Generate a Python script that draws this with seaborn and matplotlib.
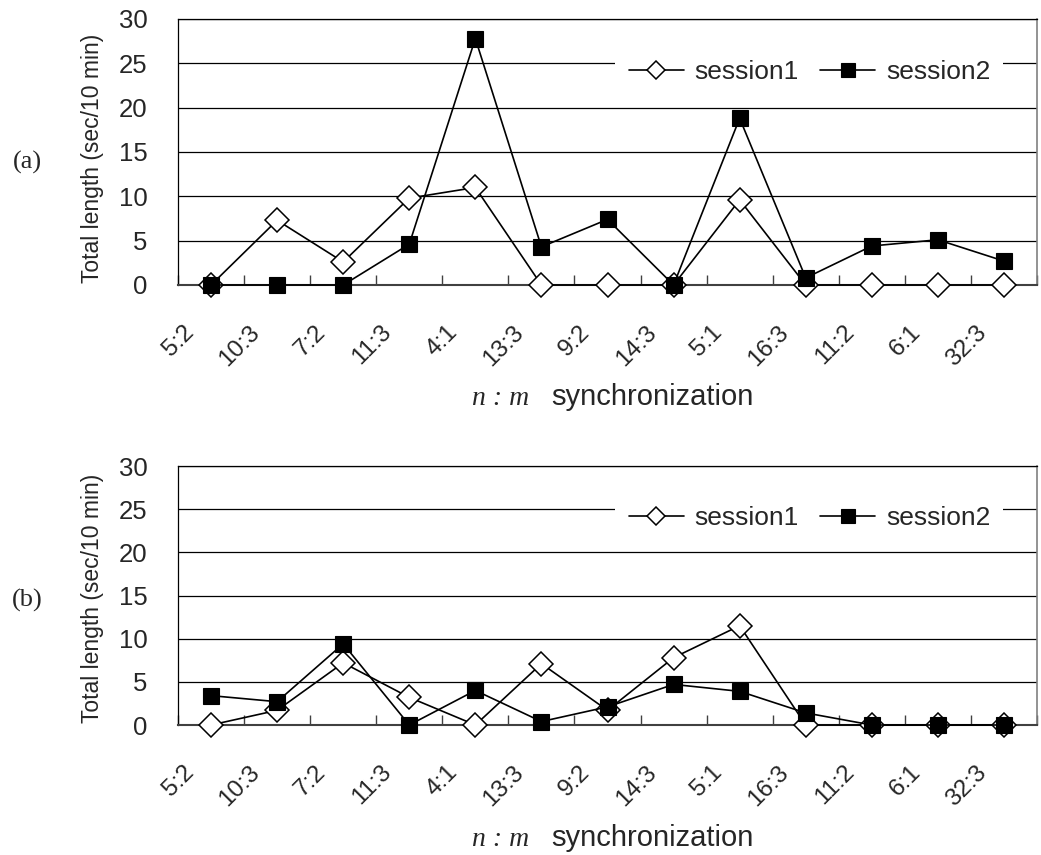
import numpy as np
import pandas as pd
import matplotlib
matplotlib.use("Agg")
import matplotlib.pyplot as plt
import seaborn as sns
from matplotlib.transforms import ScaledTranslation
from matplotlib.ticker import FixedLocator

# ---------------- data ----------------
ratios = ["5:2", "10:3", "7:2", "11:3", "4:1", "13:3", "9:2",
          "14:3", "5:1", "16:3", "11:2", "6:1", "32:3"]
a_session1 = [0, 7.3, 2.6, 9.8, 11.0, 0, 0, 0, 9.6, 0, 0, 0, 0]
a_session2 = [0, 0, 0, 4.6, 27.8, 4.3, 7.4, 0, 18.8, 0.8, 4.4, 5.1, 2.7]
b_session1 = [0, 1.7, 7.2, 3.2, 0, 7.1, 1.7, 7.8, 11.5, 0, 0, 0, 0]
b_session2 = [3.4, 2.7, 9.4, 0, 4.0, 0.4, 2.1, 4.7, 3.9, 1.4, 0, 0, 0]
y_ticks = [0, 5, 10, 15, 20, 25, 30]
series_names = ["session1", "session2"]
panel_labels = ["(a)", "(b)"]
y_title = "Total length (sec/10 min)"
x_title_italic = "n : m"
x_title = "synchronization"

sns.set_theme(style="white")
plt.rcParams["font.family"] = ["Liberation Sans", "DejaVu Sans"]

W, H = 1041, 855
fig = plt.figure(figsize=(W / 100, H / 100), dpi=100)
fig.patch.set_facecolor("white")

# axes boxes in pixels: left, right, top(y=30), bottom(y=0)
boxes = [(178, 1037, 19, 285), (178, 1037, 466, 725)]
panel_data = [(a_session1, a_session2), (b_session1, b_session2)]
label_y = [162, 600]
xlabel_base = [405, 846]
ylabel_center = [158, 598]

for i, ((l, r, t, b), (s1, s2)) in enumerate(zip(boxes, panel_data)):
    ax = fig.add_axes([l / W, 1 - b / H, (r - l) / W, (b - t) / H])
    df = pd.DataFrame({"pos": np.arange(len(ratios)),
                       series_names[0]: s1, series_names[1]: s2})
    sns.lineplot(data=df, x="pos", y=series_names[0], ax=ax, color="black",
                 linewidth=1.2, marker="D", markersize=12.5,
                 markerfacecolor="white", markeredgecolor="black",
                 markeredgewidth=1.1, label=series_names[0], clip_on=False,
                 zorder=3)
    sns.lineplot(data=df, x="pos", y=series_names[1], ax=ax, color="black",
                 linewidth=1.2, marker="s", markersize=12,
                 markerfacecolor="black", markeredgecolor="black",
                 markeredgewidth=0.8, label=series_names[1], clip_on=False,
                 zorder=4)

    ax.set_xlim(-0.5, len(ratios) - 0.5)
    ax.set_ylim(0, 30)
    ax.set_yticks(y_ticks)
    ax.set_xticks(np.arange(len(ratios)))
    ax.set_xticklabels(ratios)
    ax.xaxis.set_minor_locator(FixedLocator(np.arange(len(ratios) + 1) - 0.5))
    ax.set_xlabel("")
    ax.set_ylabel("")

    ax.yaxis.grid(True, color="black", linewidth=0.9)
    ax.xaxis.grid(False)
    ax.set_axisbelow(True)
    ax.set_facecolor("white")

    for side in ["top", "left"]:
        ax.spines[side].set_visible(True)
        ax.spines[side].set_color("black")
        ax.spines[side].set_linewidth(0.9)
    ax.spines["right"].set_color("#808080")
    ax.spines["right"].set_linewidth(1.2)
    ax.spines["bottom"].set_color("#404040")
    ax.spines["bottom"].set_linewidth(1.5)

    ax.tick_params(axis="y", length=0, pad=22, labelsize=18.5)
    ax.tick_params(axis="x", which="major", length=0, pad=26, labelsize=17.5)
    ax.tick_params(axis="x", which="minor", direction="in", length=7,
                   width=1, color="#404040", bottom=True)
    offset = ScaledTranslation(-13 / 100, 0, fig.dpi_scale_trans)
    for lab in ax.get_xticklabels():
        lab.set_rotation(45)
        lab.set_ha("right")
        lab.set_va("top")
        lab.set_transform(lab.get_transform() + offset)

    leg = ax.legend(loc="center", bbox_to_anchor=(0.735, 0.80), ncol=2,
                    frameon=True, fancybox=False, edgecolor="none",
                    facecolor="white", framealpha=1, handlelength=2.1,
                    handletextpad=0.4, columnspacing=0.8, borderpad=0.5,
                    fontsize=19)
    leg.set_zorder(10)
    hs = leg.legend_handles
    hs[0].set_markersize(9)
    hs[1].set_markersize(10.5)

    fig.text(27 / W, 1 - label_y[i] / H, panel_labels[i], ha="center",
             va="center", fontsize=19, family=["Liberation Serif"])
    fig.text(92 / W, 1 - ylabel_center[i] / H, y_title, rotation=90,
             ha="center", va="center", fontsize=16.5)
    fig.text(529 / W, 1 - xlabel_base[i] / H, x_title_italic, ha="right",
             va="baseline", fontsize=20, style="italic",
             family=["Liberation Serif"])
    fig.text(551 / W, 1 - xlabel_base[i] / H, x_title, ha="left",
             va="baseline", fontsize=21)

fig.savefig("out.png", dpi=100, facecolor="white")
